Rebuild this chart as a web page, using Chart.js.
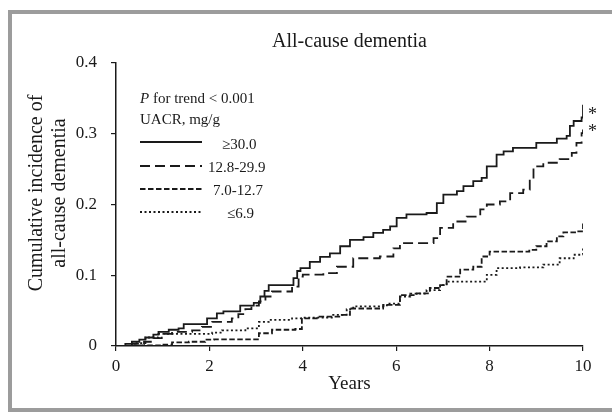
<!DOCTYPE html>
<html>
<head>
<meta charset="utf-8">
<script src="https://cdn.jsdelivr.net/npm/chart.js@4.4.1/dist/chart.umd.min.js"></script>
<style>
    html, body { margin: 0; padding: 0; background: #fff; }
    #wrap { width: 612px; height: 412px; }
</style>
</head>
<body>
<div id="wrap"><canvas id="js-dementia-plot" width="612" height="412"></canvas></div>
<script>
// Cumulative incidence (years since baseline / incidence)
const yearsGe30 = [0, 0.2, 0.34, 0.5, 0.63, 0.8, 0.91, 1.13, 1.34, 1.45, 1.95, 2.16, 2.3, 2.66, 2.95, 3.09, 3.18, 3.27, 3.8, 3.88, 3.95, 4.15, 4.37, 4.58, 4.8, 5.01, 5.3, 5.51, 5.72, 5.87, 6.01, 6.22, 6.65, 6.87, 7.01, 7.3, 7.44, 7.65, 7.83, 7.94, 8.15, 8.3, 8.5, 9.0, 9.44, 9.65, 9.72, 9.8, 9.97, 10.0];
const incGe30   = [0, 0.003, 0.006, 0.009, 0.012, 0.016, 0.020, 0.023, 0.025, 0.031, 0.039, 0.046, 0.049, 0.057, 0.061, 0.070, 0.078, 0.086, 0.096, 0.106, 0.110, 0.119, 0.126, 0.131, 0.141, 0.150, 0.154, 0.160, 0.164, 0.169, 0.181, 0.186, 0.188, 0.202, 0.214, 0.219, 0.226, 0.233, 0.2375, 0.254, 0.2705, 0.275, 0.280, 0.287, 0.293, 0.297, 0.311, 0.318, 0.323, 0.341];

const years128 = [0, 0.34, 0.6, 0.8, 0.98, 1.2, 1.63, 1.84, 2.06, 2.48, 2.62, 2.77, 2.9, 3.06, 3.2, 3.34, 3.77, 3.91, 4.0, 4.44, 4.73, 5.08, 5.65, 5.94, 6.08, 6.8, 6.94, 7.22, 7.51, 7.8, 7.94, 8.22, 8.44, 8.72, 8.86, 8.94, 9.15, 9.5, 9.76, 9.86, 9.97, 10.0];
const inc128   = [0, 0.003, 0.006, 0.011, 0.017, 0.020, 0.022, 0.027, 0.034, 0.039, 0.045, 0.052, 0.057, 0.063, 0.070, 0.077, 0.084, 0.098, 0.101, 0.103, 0.112, 0.124, 0.1265, 0.138, 0.1455, 0.1525, 0.167, 0.176, 0.183, 0.193, 0.200, 0.2045, 0.216, 0.221, 0.235, 0.254, 0.259, 0.264, 0.273, 0.287, 0.301, 0.306];

const years70 = [0, 0.4, 0.98, 1.2, 1.56, 1.91, 2.1, 3.06, 3.34, 3.84, 3.98, 4.3, 4.8, 5.01, 5.72, 6.08, 6.44, 6.72, 6.94, 7.08, 7.37, 7.65, 7.83, 8.0, 8.85, 9.0, 9.22, 9.44, 9.58, 9.86, 10.0];
const inc70   = [0, 0.001, 0.002, 0.005, 0.006, 0.009, 0.0095, 0.018, 0.023, 0.024, 0.039, 0.0415, 0.044, 0.053, 0.058, 0.072, 0.0745, 0.082, 0.086, 0.098, 0.108, 0.112, 0.1265, 0.1335, 0.136, 0.141, 0.148, 0.155, 0.1605, 0.162, 0.174];

const yearsLe69 = [0, 0.4, 0.63, 0.91, 2.06, 2.27, 2.77, 3.06, 3.27, 3.77, 3.98, 4.65, 4.94, 5.08, 5.8, 6.08, 6.3, 6.65, 6.94, 7.08, 7.94, 8.15, 8.65, 9.15, 9.5, 9.8, 10.0];
const incLe69   = [0, 0.004, 0.012, 0.017, 0.019, 0.022, 0.025, 0.034, 0.037, 0.039, 0.040, 0.044, 0.052, 0.056, 0.060, 0.070, 0.074, 0.079, 0.086, 0.091, 0.1005, 0.110, 0.111, 0.115, 0.124, 0.129, 0.141];

const groupLabels = ['\u226530.0', '12.8-29.9', '7.0-12.7', '\u22646.9'];
const groupDashes = [[], [10, 5], [5.5, 2.5], [2, 2.5]];
const xTicks = [0, 2, 4, 6, 8, 10];
const yTicks = [0, 0.1, 0.2, 0.3, 0.4];
const starLevels = [0.33, 0.307]; // "*" marks next to the two top curves

const serif = '"Liberation Serif", "Times New Roman", serif';
const ink = '#1a1a1a';

const toPoints = (xs, ys) => xs.map((x, i) => ({ x: x, y: ys[i] }));
const series = [
    toPoints(yearsGe30, incGe30),
    toPoints(years128, inc128),
    toPoints(years70, inc70),
    toPoints(yearsLe69, incLe69),
];

// frame, title, legend, y title and stars
const decorPlugin = {
    id: 'decor',
    beforeDraw(chart) {
        const ctx = chart.ctx;
        ctx.save();
        ctx.fillStyle = '#fff';
        ctx.fillRect(0, 0, chart.width, chart.height);
        ctx.strokeStyle = '#9c9c9c';
        ctx.lineWidth = 4;
        ctx.strokeRect(10, 12, 700, 398);
        ctx.restore();
    },
    afterDraw(chart) {
        const ctx = chart.ctx;
        const area = chart.chartArea;
        const xs = chart.scales.x, ys = chart.scales.y;
        ctx.save();
        ctx.fillStyle = ink;
        ctx.textBaseline = 'alphabetic';

        ctx.font = '20px ' + serif;
        ctx.textAlign = 'center';
        ctx.fillText('All-cause dementia', (area.left + area.right) / 2, 47);

        // y axis title, two lines
        ctx.save();
        ctx.translate(0, 193);
        ctx.rotate(-Math.PI / 2);
        ctx.textBaseline = 'middle';
        ctx.fillText('Cumulative incidence of', 0, 37);
        ctx.fillText('all-cause dementia', 0, 60);
        ctx.restore();

        // legend block
        const lx = area.left + 24;
        ctx.textAlign = 'left';
        ctx.font = 'italic 15px ' + serif;
        ctx.fillText('P', lx, 103);
        const pw = ctx.measureText('P ').width;
        ctx.font = '15px ' + serif;
        ctx.fillText('for trend < 0.001', lx + pw, 103);
        ctx.fillText('UACR, mg/g', lx, 124);

        const rowY = [142, 166, 189, 212];
        const textX = [222, 208, 213, 227];
        const textY = [149, 172, 195, 218];
        ctx.strokeStyle = ink;
        ctx.lineWidth = 1.8;
        rowY.forEach((y, i) => {
            ctx.setLineDash(groupDashes[i]);
            ctx.beginPath();
            ctx.moveTo(lx, y);
            ctx.lineTo(lx + 62, y);
            ctx.stroke();
            ctx.fillText(groupLabels[i], textX[i], textY[i]);
        });
        ctx.setLineDash([]);

        ctx.font = '18px ' + serif;
        ctx.textBaseline = 'middle';
        starLevels.forEach(v => {
            ctx.fillText('*', xs.getPixelForValue(10) + 5, ys.getPixelForValue(v) + 3);
        });
        ctx.restore();
    }
};

const datasets = series.map((pts, i) => ({
    label: groupLabels[i],
    data: pts,
    borderColor: ink,
    borderWidth: 1.8,
    borderDash: groupDashes[i],
    pointRadius: 0,
    stepped: true,
    fill: false,
}));

const axisGrid = {
    drawOnChartArea: false,
    drawTicks: true,
    tickLength: 5,
    color: ink,
    lineWidth: 1.2,
};

new Chart(document.querySelector('#js-dementia-plot'), {
    type: 'line',
    data: { datasets: datasets },
    options: {
        responsive: false,
        animation: false,
        layout: { padding: { top: 63, right: 29, bottom: 0, left: 0 } },
        plugins: {
            legend: { display: false },
            tooltip: { enabled: false },
        },
        scales: {
            x: {
                type: 'linear',
                min: 0,
                max: 10,
                afterBuildTicks: (scale) => { scale.ticks = xTicks.map(v => ({ value: v })); },
                afterFit: (scale) => { scale.height = 66; },
                grid: axisGrid,
                border: { display: true, color: ink, width: 1.5 },
                ticks: { color: ink, padding: 5, font: { family: serif, size: 17 } },
                title: {
                    display: true,
                    text: 'Years',
                    color: ink,
                    font: { family: serif, size: 19 },
                    padding: { top: 0, bottom: 17 },
                },
            },
            y: {
                min: 0,
                max: 0.4,
                afterBuildTicks: (scale) => { scale.ticks = yTicks.map(v => ({ value: v })); },
                afterFit: (scale) => { scale.width = 116; },
                grid: axisGrid,
                border: { display: true, color: ink, width: 1.5 },
                ticks: {
                    color: ink,
                    padding: 14,
                    font: { family: serif, size: 17 },
                    callback: (v) => String(Math.round(v * 10) / 10),
                },
            },
        },
    },
    plugins: [decorPlugin],
});
</script>
</body>
</html>
